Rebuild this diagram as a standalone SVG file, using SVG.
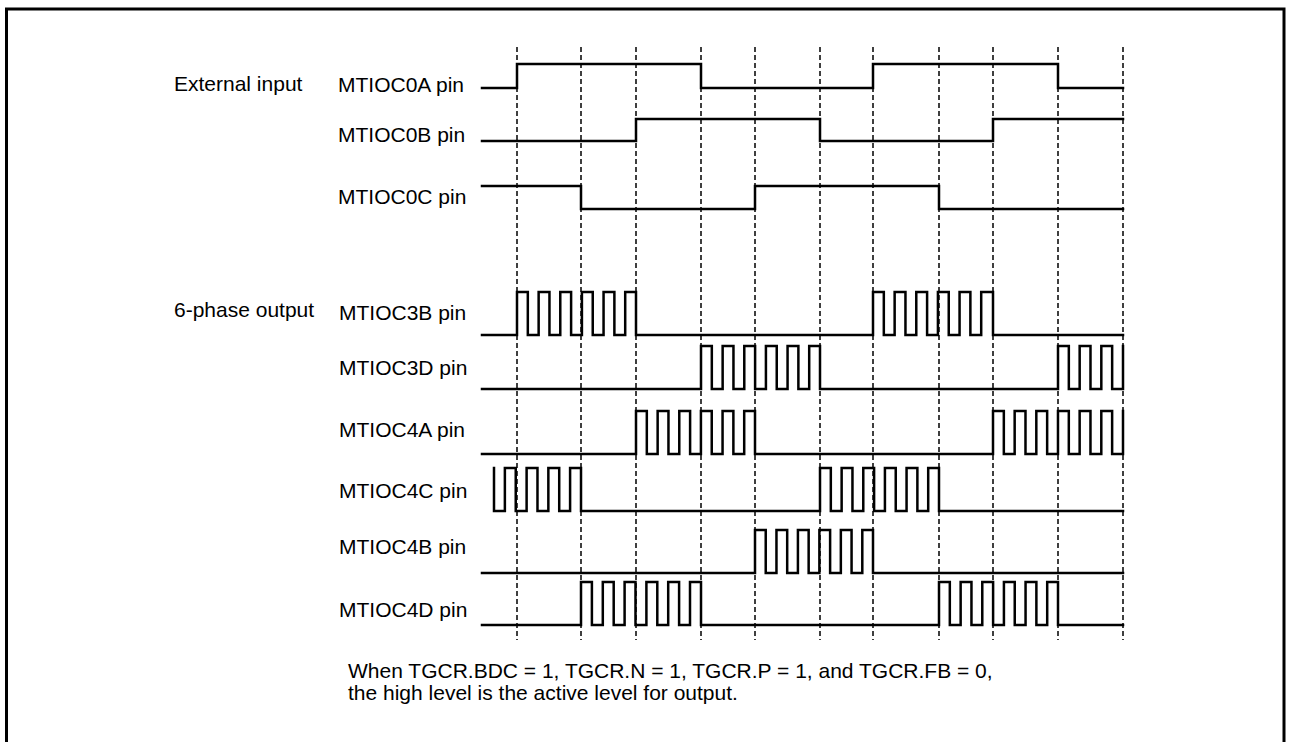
<svg xmlns="http://www.w3.org/2000/svg" width="1290" height="742" viewBox="0 0 1290 742">
<style>
text{font-family:"Liberation Sans",Arial,sans-serif;font-size:21px;fill:#000}
.w{fill:none;stroke:#000;stroke-width:2.5;stroke-linejoin:miter;stroke-linecap:square}
.d{fill:none;stroke:#000;stroke-width:1.5;stroke-dasharray:5 3}
.frame{fill:none;stroke:#000;stroke-width:3}
</style>
<rect width="1290" height="742" fill="#fff"/>
<path class="frame" d="M6.5,742 V9 H1284 V742"/>
<g id="gridlines">
<path class="d" d="M517,47V640 M581,47V640 M636,47V640 M701,47V640 M755,47V640 M820,47V640 M873,47V640 M939,47V640 M993,47V640 M1058,47V640 M1123,47V640"/>
</g>
<g id="group-labels">
<text x="174" y="91">External input</text>
<text x="174" y="317">6-phase output</text>
</g>
<g id="MTIOC0A">
<text x="338" y="92">MTIOC0A pin</text>
<path class="w" d="M482,88 H517 V64 H701 V88 H873 V64 H1058 V88 H1123"/>
</g>
<g id="MTIOC0B">
<text x="338" y="142">MTIOC0B pin</text>
<path class="w" d="M482,141 H636 V119 H820 V141 H993 V119 H1123"/>
</g>
<g id="MTIOC0C">
<text x="338" y="204">MTIOC0C pin</text>
<path class="w" d="M482,186 H581 V209 H755 V186 H939 V209 H1123"/>
</g>
<g id="MTIOC3B">
<text x="339" y="320">MTIOC3B pin</text>
<path class="w" d="M482,335 H517 v-43 h10.82 v43 h10.82 v-43 h10.82 v43 h10.82 v-43 h10.82 v43 h10.82 v-43 h10.82 v43 h10.82 v-43 h10.82 v43 h10.82 v-43 H636 v43 H873 v-43 h10.82 v43 h10.82 v-43 h10.82 v43 h10.82 v-43 h10.82 v43 h10.82 v-43 h10.82 v43 h10.82 v-43 h10.82 v43 h10.82 v-43 H993 v43 H1123"/>
</g>
<g id="MTIOC3D">
<text x="339" y="375">MTIOC3D pin</text>
<path class="w" d="M482,389 H701 v-43 h10.82 v43 h10.82 v-43 h10.82 v43 h10.82 v-43 h10.82 v43 h10.82 v-43 h10.82 v43 h10.82 v-43 h10.82 v43 h10.82 v-43 H820 v43 H1058 v-43 h10.83 v43 h10.83 v-43 h10.83 v43 h10.83 v-43 h10.83 v43 H1123 v-43"/>
</g>
<g id="MTIOC4A">
<text x="339" y="437">MTIOC4A pin</text>
<path class="w" d="M482,454 H636 v-43 h10.82 v43 h10.82 v-43 h10.82 v43 h10.82 v-43 h10.82 v43 h10.82 v-43 h10.82 v43 h10.82 v-43 h10.82 v43 h10.82 v-43 H755 v43 H993 v-43 h10.83 v43 h10.83 v-43 h10.83 v43 h10.83 v-43 h10.83 v43 h10.83 v-43 h10.83 v43 h10.83 v-43 h10.83 v43 h10.83 v-43 h10.83 v43 H1123 v-43"/>
</g>
<g id="MTIOC4C">
<text x="339" y="498">MTIOC4C pin</text>
<path class="w" d="M494,468 v43 h10.87 v-43 h10.87 v43 h10.87 v-43 h10.87 v43 h10.87 v-43 h10.87 v43 h10.87 v-43 H581 v43 H820 v-43 h10.82 v43 h10.82 v-43 h10.82 v43 h10.82 v-43 h10.82 v43 h10.82 v-43 h10.82 v43 h10.82 v-43 h10.82 v43 h10.82 v-43 H939 v43 H1123"/>
</g>
<g id="MTIOC4B">
<text x="339" y="554">MTIOC4B pin</text>
<path class="w" d="M482,573 H755 v-43 h10.73 v43 h10.73 v-43 h10.73 v43 h10.73 v-43 h10.73 v43 h10.73 v-43 h10.73 v43 h10.73 v-43 h10.73 v43 h10.73 v-43 H873 v43 H1123"/>
</g>
<g id="MTIOC4D">
<text x="339" y="617">MTIOC4D pin</text>
<path class="w" d="M482,625 H581 v-43 h10.9 v43 h10.9 v-43 h10.9 v43 h10.9 v-43 h10.9 v43 h10.9 v-43 h10.9 v43 h10.9 v-43 h10.9 v43 h10.9 v-43 H701 v43 H939 v-43 h10.82 v43 h10.82 v-43 h10.82 v43 h10.82 v-43 h10.82 v43 h10.82 v-43 h10.82 v43 h10.82 v-43 h10.82 v43 h10.82 v-43 H1058 v43 H1123"/>
</g>
<g id="note">
<text x="348" y="678">When TGCR.BDC = 1, TGCR.N = 1, TGCR.P = 1, and TGCR.FB = 0,</text>
<text x="348" y="700">the high level is the active level for output.</text>
</g>
</svg>
